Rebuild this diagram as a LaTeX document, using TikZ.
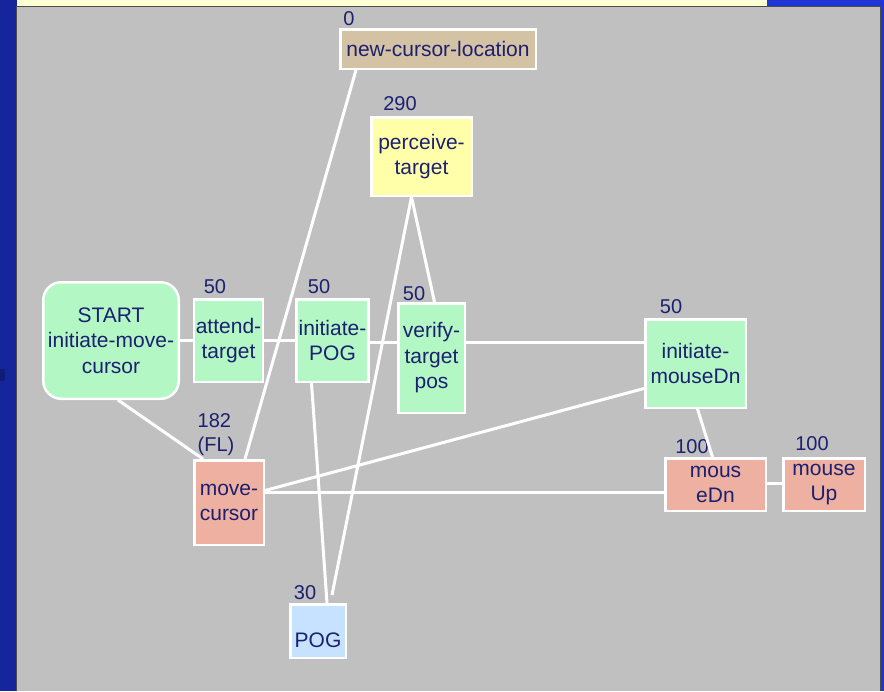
\documentclass[tikz,border=0pt]{standalone}
\usepackage{fontspec}
\setmainfont{Liberation Sans}
\usepackage{xcolor}
\usepackage{tikz}
\usetikzlibrary{positioning}

\definecolor{frameblue}{RGB}{21,37,156}
\definecolor{barblue}{RGB}{32,54,212}
\definecolor{bandyellow}{RGB}{255,255,212}
\definecolor{panelgray}{RGB}{191,192,191}
\definecolor{txtblue}{RGB}{28,32,112}
\definecolor{opgreen}{RGB}{179,247,196}
\definecolor{optan}{RGB}{212,194,164}
\definecolor{opyellow}{RGB}{255,255,170}
\definecolor{opsalmon}{RGB}{238,176,160}
\definecolor{opblue}{RGB}{198,226,255}

\begin{document}
\begin{tikzpicture}[
    x=1pt, y=-1pt,
    box/.style={rectangle, draw=white, line width=2.5pt,
      text=txtblue, align=center, inner sep=2pt,
      font=\fontsize{21}{25.5}\selectfont},
    num/.style={text=txtblue, inner sep=0pt,
      font=\fontsize{20}{24}\selectfont},
    link/.style={draw=white, line width=3pt}
]

% frame and panel
\fill[barblue] (0,0) rectangle (884,691);
\fill[frameblue] (0,0) rectangle (17,691);
\fill[frameblue!75!black] (0,369) rectangle (5,381);
\fill[bandyellow] (17,0) rectangle (767,7);
\fill[panelgray] (17,7) rectangle (880,691);
\draw[black!70, line width=1pt] (16.5,691) -- (16.5,6.5) -- (880.5,6.5) -- (880.5,691);
\useasboundingbox (0,0) rectangle (884,691);

% operators
\node[box, fill=optan, minimum width=195.5pt, minimum height=39.5pt] (ncl) at (438,49) {new-cursor-location};
\node[box, fill=opyellow, minimum width=100.5pt, minimum height=78.5pt] (perceive) at (421.5,156.5) {perceive-\\target};
\node[box, fill=opgreen, rounded corners=18pt, minimum width=135.5pt, minimum height=116.5pt] (start) at (111,340.5) {START\\initiate-move-\\cursor};
\node[box, fill=opgreen, minimum width=68.5pt, minimum height=82.5pt] (attend) at (228.5,340.5) {attend-\\target};
\node[box, fill=opgreen, minimum width=68.5pt, minimum height=82.5pt] (initpog) at (332.5,340.5) {initiate-\\POG};
\node[box, fill=opgreen, minimum width=66.5pt, minimum height=109.5pt] (verify) at (431.5,358) {verify-\\target\\pos};
\node[box, fill=opgreen, minimum width=100.5pt, minimum height=88.5pt] (initmd) at (695.5,363.5) {initiate-\\mouseDn};
\node[box, fill=opsalmon, minimum width=69.5pt, minimum height=84.5pt] (move) at (229,502.5) {move-\\cursor};
\node[box, fill=opsalmon, minimum width=100.5pt, minimum height=52.5pt] (mousedn) at (715.5,484.5) {mous\\eDn};
\node[box, fill=opsalmon, minimum width=81.5pt, minimum height=52.5pt] (mouseup) at (824,484.5) {mouse\\Up};
\node[box, fill=opblue, text height=33pt, minimum width=55.5pt, minimum height=53.5pt] (pog) at (318,631) {POG};

% durations
\node[num] (t-ncl) at (349,19) {0};
\node[num] (t-perceive) at (400,104) {290};
\node[num] (t-attend) at (215,287) {50};
\node[num] (t-initpog) at (319,287) {50};
\node[num] (t-verify) at (414,294) {50};
\node[num] (t-initmd) at (671,307) {50};
\node[num, align=left] (t-move) at (216,435) {182\\(FL)};
\node[num] (t-mousedn) at (692,447) {100};
\node[num] (t-mouseup) at (812,444) {100};
\node[num] (t-pog) at (305,593) {30};

% dependencies
\draw[link] (start.east) -- (attend.west);
\draw[link] (attend.east) -- (initpog.west);
\draw[link] ([yshift=-2pt]initpog.east) -- ([yshift=-2pt]initpog.east -| verify.west);
\draw[link] ([yshift=-2pt]initpog.east -| verify.east) -- ([yshift=-2pt]initpog.east -| initmd.west);
\draw[link] ([xshift=7pt]start.south) -- ([xshift=-26pt]move.north);
\draw[link] ([xshift=16pt]move.north) -- ([xshift=-82pt]ncl.south);
\draw[link] ([yshift=12pt]move.east) -- ([yshift=-25pt]initmd.west);
\draw[link] ([yshift=10pt]move.east) -- ([yshift=10pt]move.east -| mousedn.west);
\draw[link] ([xshift=-21pt]initpog.south) -- ([xshift=9pt]pog.north);
\draw[link] ([xshift=-10pt]perceive.south) -- ([xshift=14pt,yshift=8pt]pog.north);
\draw[link] ([xshift=-10pt]perceive.south) -- ([xshift=3pt]verify.north);
\draw[link] ([xshift=2pt]initmd.south) -- ([xshift=-3pt]mousedn.north);
\draw[link] ([yshift=1pt]mousedn.east) -- ([yshift=1pt]mouseup.west);

\end{tikzpicture}
\end{document}
